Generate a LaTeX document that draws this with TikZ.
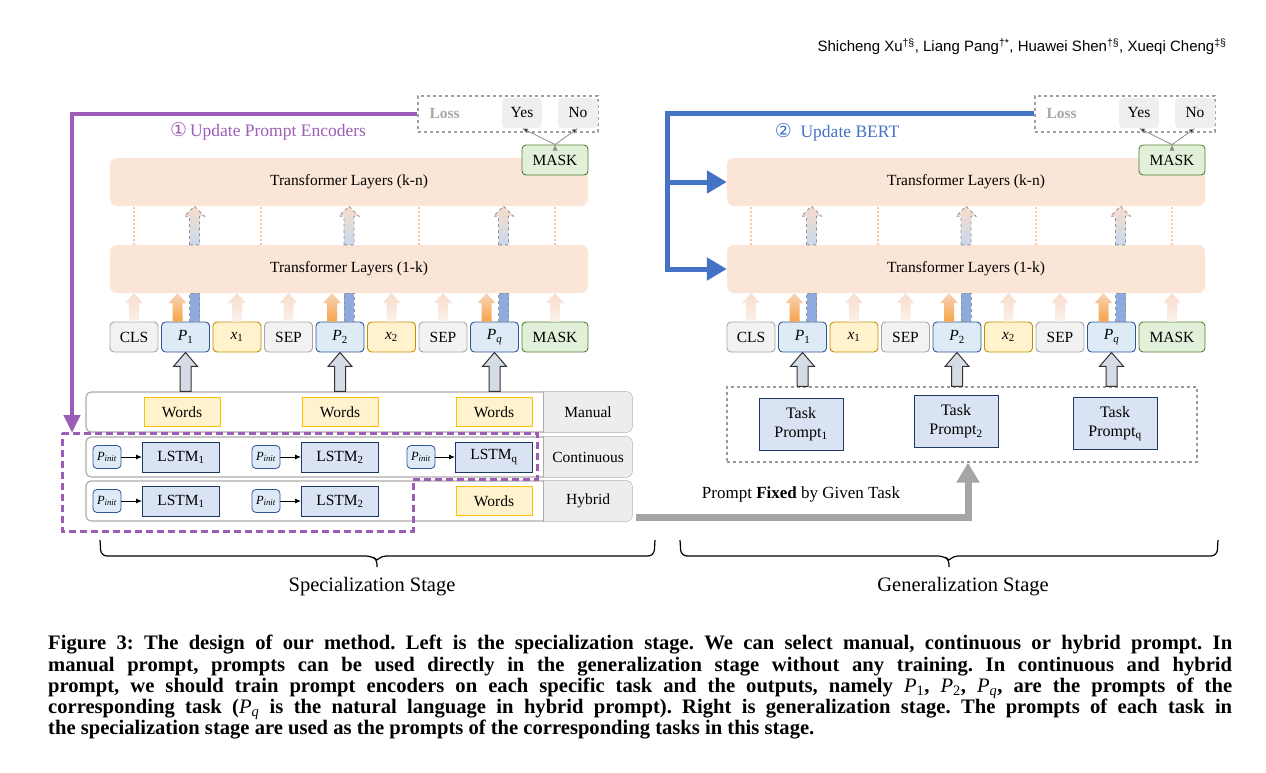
\documentclass[tikz,border=0pt]{standalone}
\usepackage{fontspec}
\setmainfont{Liberation Serif}
\newfontfamily\headfont{Liberation Sans}
\newfontfamily\circfont{DejaVu Sans}
\usetikzlibrary{positioning, arrows.meta, calc}

\definecolor{layerfill}{HTML}{FBE5D6}
\definecolor{tokfill}{HTML}{F2F2F2}
\definecolor{tokline}{HTML}{A6A6A6}
\definecolor{pfill}{HTML}{DEEBF7}
\definecolor{pline}{HTML}{2F5597}
\definecolor{xfill}{HTML}{FFF2CC}
\definecolor{xline}{HTML}{BF9000}
\definecolor{mfill}{HTML}{E2F0D9}
\definecolor{mline}{HTML}{548235}
\definecolor{wline}{HTML}{FFC000}
\definecolor{lstmfill}{HTML}{DAE3F3}
\definecolor{lstmline}{HTML}{1F3864}
\definecolor{rowline}{HTML}{AFABAB}
\definecolor{cellfill}{HTML}{EDEDED}
\definecolor{ansfill}{HTML}{EFEFEF}
\definecolor{lossgray}{HTML}{A6A6A6}
\definecolor{purp}{RGB}{155,93,182}
\definecolor{bertblue}{RGB}{68,114,196}
\definecolor{peachtop}{HTML}{F8DCCB}
\definecolor{peachbot}{HTML}{FBF1EB}
\definecolor{orngtop}{HTML}{F8D3B8}
\definecolor{orngbot}{HTML}{F5A447}
\definecolor{barblue}{HTML}{8FAADC}
\definecolor{dashbot}{HTML}{C9D9EF}
\definecolor{garrfill}{HTML}{D6DCE5}
\definecolor{fixgray}{HTML}{A5A5A5}

% italic letter with subscript, set in the text font
\newcommand{\vsub}[2]{\textit{#1}\textsubscript{#2}}

% block arrow: [style]{from}{to}{shaft half}{head half}{head length}
\newcommand{\blk}[6][]{%
  \path[#1] let \p1=(#2), \p2=(#3) in
    ({\x1-#4},\y1) -- ({\x1-#4},{\y2-#6}) -- ({\x1-#5},{\y2-#6}) -- (\x1,\y2)
    -- ({\x1+#5},{\y2-#6}) -- ({\x1+#4},{\y2-#6}) -- ({\x1+#4},\y1) -- cycle;}

\begin{document}
\begin{tikzpicture}[x=1pt, y=-1pt, font=\fontsize{15.5}{18}\selectfont,
    tok/.style={draw, rounded corners=4pt, line width=0.9pt, minimum width=48pt, minimum height=30pt, inner sep=0pt},
    gtok/.style={tok, fill=tokfill, draw=tokline},
    ptok/.style={tok, fill=pfill, draw=pline},
    xtok/.style={tok, fill=xfill, draw=xline},
    mtok/.style={tok, fill=mfill, draw=mline, minimum width=66pt},
    layer/.style={fill=layerfill, rounded corners=7pt, minimum width=478pt, minimum height=48pt},
    lossbox/.style={draw=gray!75, dashed, line width=1.2pt, minimum width=180pt, minimum height=36pt},
    ans/.style={fill=ansfill, rounded corners=4pt, minimum width=40pt, minimum height=30pt, inner sep=0pt},
    outarr/.style={draw=gray!90, line width=0.8pt, -{Latex[length=6pt, width=5pt]}},
    row/.style={draw=rowline, line width=1.2pt, rounded corners=5pt, fill=white, minimum width=546pt, minimum height=40pt},
    words/.style={fill=xfill, draw=wline, line width=1pt, minimum width=76pt, minimum height=29pt, inner sep=0pt},
    lstm/.style={fill=lstmfill, draw=lstmline, line width=1pt, minimum width=77pt, minimum height=30pt, inner sep=0pt},
    pin/.style={fill=pfill, draw=pline, line width=0.8pt, rounded corners=4pt, minimum width=28pt, minimum height=23pt, inner sep=0pt, font=\fontsize{12.5}{14}\selectfont},
    task/.style={fill=lstmfill, draw=lstmline, line width=1pt, minimum width=84pt, minimum height=52pt, align=center, inner sep=0pt, font=\fontsize{16}{19}\selectfont},
    peach/.style={top color=peachtop, bottom color=peachbot},
    orng/.style={top color=orngtop, bottom color=orngbot},
    bar/.style={fill=barblue, draw=gray!85, dashed, line width=0.8pt},
    dasharr/.style={draw=gray!85, dashed, line width=0.9pt, top color=peachtop, bottom color=dashbot},
    dots/.style={draw=peachtop!80!orange, dotted, line width=2pt},
    garr/.style={fill=garrfill, draw=black!80, line width=1pt},
    encbox/.style={draw=purp, dashed, dash pattern=on 7pt off 4pt, line width=3pt},
    upd/.style={line width=4.5pt, -{Triangle[width=16pt, length=18pt]}},
    updb/.style={draw=bertblue, line width=5pt, -{Triangle[width=22pt, length=20pt]}},
    brc/.style={line width=1.2pt, line join=round}]

\useasboundingbox (0,0) rectangle (1266,773);

% HEADER
\node[anchor=base east, font=\headfont\fontsize{15}{18}\selectfont] (head) at (1230,52)
  {Shicheng Xu\textsuperscript{†§}, Liang Pang\textsuperscript{†*}, Huawei Shen\textsuperscript{†§}, Xueqi Cheng\textsuperscript{‡§}};

% BOTH PANELS
\foreach \s/\dx in {l/0pt, r/617pt} {
  \begin{scope}[xshift=\dx]
    % LAYERS
    \node[layer] (\s-top) at (349,182) {Transformer Layers (k-n)};
    \node[layer] (\s-bot) at (349,269) {Transformer Layers (1-k)};

    % TOKENS
    \node[gtok] (\s-cls) at (134,337) {CLS};
    \node[ptok, right=2.6pt of \s-cls] (\s-pa) {\vsub{P}{1}};
    \node[xtok, right=2.6pt of \s-pa] (\s-xa) {\vsub{x}{1}};
    \node[gtok, right=2.6pt of \s-xa] (\s-sepa) {SEP};
    \node[ptok, right=2.6pt of \s-sepa] (\s-pb) {\vsub{P}{2}};
    \node[xtok, right=2.6pt of \s-pb] (\s-xb) {\vsub{x}{2}};
    \node[gtok, right=2.6pt of \s-xb] (\s-sepb) {SEP};
    \node[ptok, right=2.6pt of \s-sepb] (\s-pq) {\vsub{P}{\textit{q}}};
    \node[mtok, right=2.6pt of \s-pq] (\s-mk) {MASK};

    % LOSS
    \node[lossbox] (\s-loss) at (508,114) {};
    \node[anchor=west, text=lossgray, font=\bfseries\fontsize{15.5}{18}\selectfont] (\s-losst) at (426,114) {Loss};
    \node[ans] (\s-yes) at (522,113) {Yes};
    \node[ans] (\s-no) at (578,113) {No};
    \node[mtok] (\s-out) at (555,160) {MASK};
  \end{scope}

  \path[outarr] (\s-out.north) edge (\s-yes.south)
                (\s-out.north) edge (\s-no.south);

  % ARROWS INTO THE LAYERS
  \foreach \t in {cls, xa, sepa, xb, sepb, mk}
    \blk[peach]{\s-\t.north}{\s-bot.south}{5pt}{9pt}{10pt};
  \foreach \t in {pa, pb, pq} {
    \blk[orng]{$(\s-\t.north)+(-8,0)$}{\s-bot.south}{5pt}{9pt}{10pt};
    \draw[bar] ($(\s-\t.north)+(4,0)$) rectangle ($(\s-\t.north |- \s-bot.south)+(14,0)$);
    \blk[dasharr]{$(\s-\t.north |- \s-bot.north)+(9,0)$}{\s-top.south}{5pt}{10pt}{10pt};
  }
  \foreach \t/\a in {cls/north, xa/east, sepb/west, mk/north}
    \draw[dots] (\s-\t.\a |- \s-bot.north) -- (\s-\t.\a |- \s-top.south);
}

% PROMPT ROWS
\node[row] (man) at (359,412) {};
\node[row] (con) at (359,457) {};
\node[row] (hyb) at (359,501) {};
\foreach \r/\t in {man/Manual, con/Continuous, hyb/Hybrid} {
  \fill[cellfill] ([xshift=-89pt, yshift=-0.7pt]\r.north east) [rounded corners=4.5pt]
    -- ([xshift=-0.7pt, yshift=-0.7pt]\r.north east) -- ([xshift=-0.7pt, yshift=0.7pt]\r.south east)
    [sharp corners] -- ([xshift=-89pt, yshift=0.7pt]\r.south east) -- cycle;
  \draw[rowline, line width=1pt] ([xshift=-89pt]\r.north east) -- ([xshift=-89pt]\r.south east);
  \node (\r-lab) at ([xshift=-44.5pt]\r.east) {\t};
}

% MANUAL
\node[words] (w1) at (182,412) {Words};
\node[words] (w2) at (340,412) {Words};
\node[words] (w3) at (494,412) {Words};

% CONTINUOUS
\node[pin] (ci1) at (107,457) {\vsub{P}{\textit{init}}};
\node[lstm] (cl1) at (181,457) {LSTM\textsubscript{1}};
\node[pin] (ci2) at (266,457) {\vsub{P}{\textit{init}}};
\node[lstm] (cl2) at (340,457) {LSTM\textsubscript{2}};
\node[pin] (ci3) at (421,457) {\vsub{P}{\textit{init}}};
\node[lstm] (cl3) at (494,457) {LSTM\textsubscript{q}};

% HYBRID
\node[pin] (hi1) at (107,501) {\vsub{P}{\textit{init}}};
\node[lstm] (hl1) at (181,501) {LSTM\textsubscript{1}};
\node[pin] (hi2) at (266,501) {\vsub{P}{\textit{init}}};
\node[lstm] (hl2) at (340,501) {LSTM\textsubscript{2}};
\node[words] (hw3) at (494,501) {Words};

\path[-{Latex[length=6pt, width=5pt]}, line width=0.9pt]
  (ci1) edge (cl1)
  (ci2) edge (cl2)
  (ci3) edge (cl3)
  (hi1) edge (hl1)
  (hi2) edge (hl2);

% PROMPT ENCODERS
\draw[encbox] (62,433) -- (537,433) -- (537,479) -- (413,479) -- (413,531) -- (62,531) -- cycle;
\coordinate (enc) at (72,433);
\draw[upd, purp] (l-loss.west) -| (enc);
\node[text=purp, font=\fontsize{17.5}{20}\selectfont] (updl) at (268,131) {{\circfont\fontsize{19}{20}\selectfont ①}\,Update Prompt Encoders};

% TASK PROMPTS
\node[draw=gray!80, dashed, line width=1.2pt, minimum width=470pt, minimum height=75pt] (tasks) at (962,424.5) {};
\node[task] (t1) at (801,424) {Task\\Prompt\textsubscript{1}};
\node[task] (t2) at (956,421.5) {Task\\Prompt\textsubscript{2}};
\node[task] (t3) at (1115,423.5) {Task\\Prompt\textsubscript{q}};

% UPDATE BERT
\draw[updb] (r-loss.west) -| ([xshift=-59pt]r-bot.west) -- (r-bot.west);
\draw[updb] ([xshift=-59pt]r-top.west) -- (r-top.west);
\node[text=bertblue, font=\fontsize{17.5}{20}\selectfont] (updr) at (837,132) {{\circfont\fontsize{19}{20}\selectfont ②}\ \ Update BERT};

% PROMPTS INTO TOKENS
\foreach \t in {pa, pb, pq} {
  \blk[garr]{l-\t.south |- man.north}{l-\t.south}{5.5pt}{12pt}{14pt};
  \blk[garr]{r-\t.south |- tasks.north}{r-\t.south}{5.5pt}{12pt}{14pt};
}

% FIXED PROMPT
\coordinate (fix) at (636,517);
\draw[draw=fixgray, line width=7pt, -{Triangle[width=22pt, length=20pt]}] (fix) -| ([xshift=6pt]tasks.south);
\node[font=\fontsize{17}{20}\selectfont] (fixt) at (801,494) {Prompt \textbf{Fixed} by Given Task};

% STAGES
\draw[brc] (100,540) [rounded corners=6pt] -- (101,556) -- (372,556) [rounded corners=4pt] -- (377,560) [sharp corners] -- (377,567);
\draw[brc] (377,560) [rounded corners=4pt] -- (382,556) [rounded corners=6pt] -- (654,556) -- (655,540);
\draw[brc] (680,540) [rounded corners=6pt] -- (681,556) -- (944,556) [rounded corners=4pt] -- (949,560) [sharp corners] -- (949,567);
\draw[brc] (949,560) [rounded corners=4pt] -- (954,556) [rounded corners=6pt] -- (1217,556) -- (1218,540);
\node[font=\fontsize{20.5}{24}\selectfont] (spec) at (372,587) {Specialization Stage};
\node[font=\fontsize{20.5}{24}\selectfont] (gen) at (963,587) {Generalization Stage};

% CAPTION
\node[anchor=north west, text width=1184pt, align=justify, inner sep=0pt, font=\bfseries\frenchspacing\fontsize{20.6}{21.3}\selectfont] (cap) at (48,635)
  {Figure 3: The design of our method. Left is the specialization stage. We can select manual, continuous or hybrid prompt. In\linebreak
   manual prompt, prompts can be used directly in the generalization stage without any training. In continuous and hybrid\linebreak
   prompt, we should train prompt encoders on each specific task and the outputs, namely {\mdseries\vsub{P}{1}}, {\mdseries\vsub{P}{2}}, {\mdseries\vsub{P}{\textit{q}}}, are the prompts of the\linebreak
   corresponding task ({\mdseries\vsub{P}{\textit{q}}} is the natural language in hybrid prompt). Right is generalization stage. The prompts of each task in\linebreak
   the specialization stage are used as the prompts of the corresponding tasks in this stage.};

\end{tikzpicture}
\end{document}
